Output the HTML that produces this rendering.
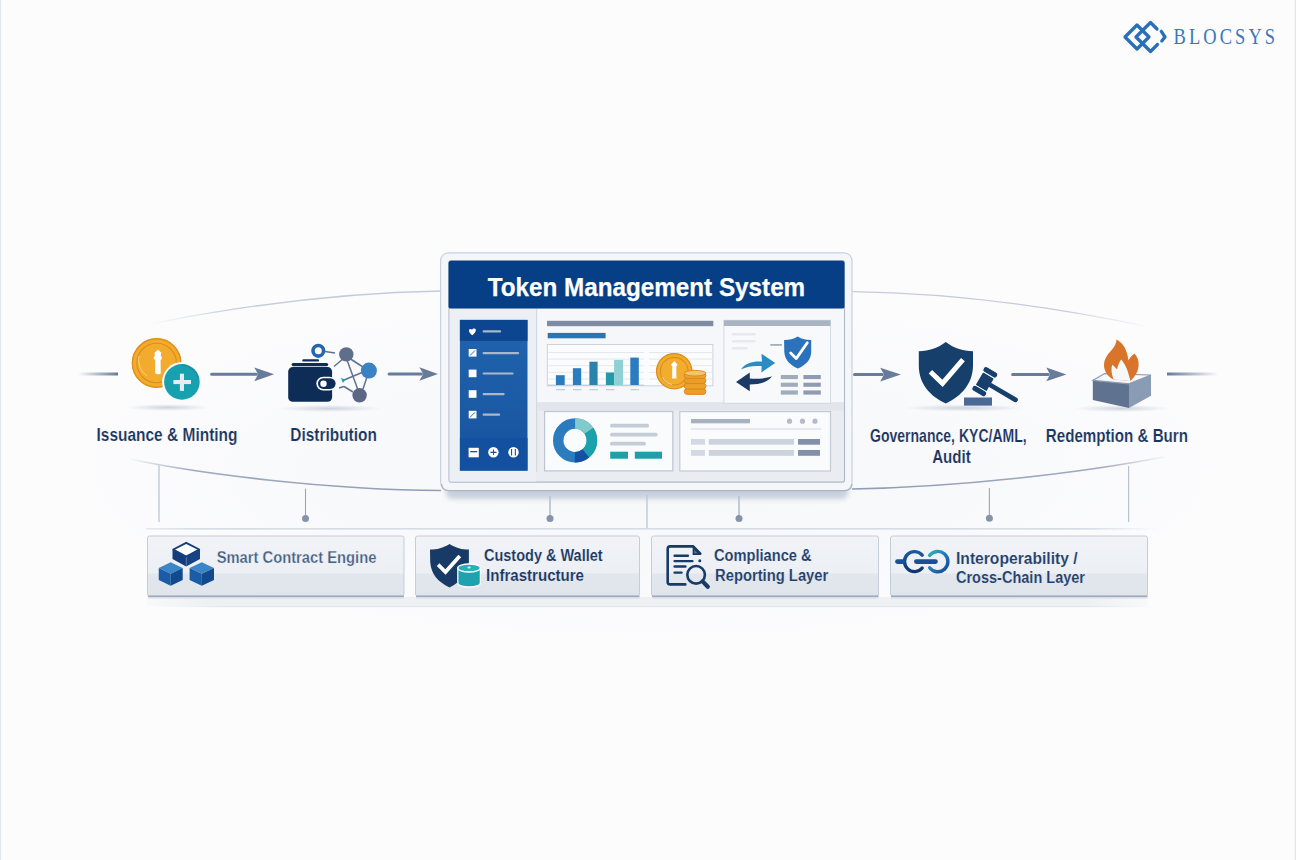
<!DOCTYPE html>
<html><head><meta charset="utf-8">
<style>
html,body{margin:0;padding:0;width:1296px;height:860px;overflow:hidden;background:#fcfdfd;}
svg{display:block;}
text{font-family:"Liberation Sans",sans-serif;}
</style></head>
<body>
<svg width="1296" height="860" viewBox="0 0 1296 860">
<defs>
  <linearGradient id="fadeL" x1="0" x2="1" y1="0" y2="0">
    <stop offset="0" stop-color="#67799a" stop-opacity="0"/>
    <stop offset="1" stop-color="#67799a" stop-opacity="1"/>
  </linearGradient>
  <linearGradient id="fadeR" x1="0" x2="1" y1="0" y2="0">
    <stop offset="0" stop-color="#67799a" stop-opacity="1"/>
    <stop offset="1" stop-color="#67799a" stop-opacity="0"/>
  </linearGradient>
  <filter id="blur3" x="-20%" y="-50%" width="140%" height="200%"><feGaussianBlur stdDeviation="2.6"/></filter>
  <radialGradient id="shadow" cx="0.5" cy="0.5" r="0.5">
    <stop offset="0" stop-color="#c9d0da" stop-opacity="0.9"/>
    <stop offset="1" stop-color="#c9d0da" stop-opacity="0"/>
  </radialGradient>
  <linearGradient id="sideg" x1="0" x2="0" y1="0" y2="1">
    <stop offset="0" stop-color="#2164ae"/>
    <stop offset="0.7" stop-color="#1a58a3"/>
    <stop offset="1" stop-color="#1650a0"/>
  </linearGradient>
  <linearGradient id="arcTL" x1="0" x2="1" y1="0" y2="0">
    <stop offset="0" stop-color="#c3ccda" stop-opacity="0"/>
    <stop offset="0.3" stop-color="#c3ccda" stop-opacity="1"/>
    <stop offset="1" stop-color="#c3ccda"/>
  </linearGradient>
  <linearGradient id="arcTR" x1="0" x2="1" y1="0" y2="0">
    <stop offset="0" stop-color="#c3ccda"/>
    <stop offset="0.7" stop-color="#c3ccda" stop-opacity="1"/>
    <stop offset="1" stop-color="#c3ccda" stop-opacity="0"/>
  </linearGradient>
  <linearGradient id="arcBL" x1="0" x2="1" y1="0" y2="0">
    <stop offset="0" stop-color="#8e9cb4" stop-opacity="0.05"/>
    <stop offset="0.2" stop-color="#8e9cb4" stop-opacity="0.85"/>
    <stop offset="1" stop-color="#8e9cb4"/>
  </linearGradient>
  <linearGradient id="arcBR" x1="0" x2="1" y1="0" y2="0">
    <stop offset="0" stop-color="#8e9cb4"/>
    <stop offset="0.8" stop-color="#8e9cb4" stop-opacity="0.85"/>
    <stop offset="1" stop-color="#8e9cb4" stop-opacity="0.05"/>
  </linearGradient>
  <radialGradient id="bandg" cx="0.5" cy="0.5" r="0.5">
    <stop offset="0" stop-color="#f4f6f9" stop-opacity="0.8"/>
    <stop offset="0.6" stop-color="#f6f7fa" stop-opacity="0.45"/>
    <stop offset="1" stop-color="#f8f9fb" stop-opacity="0"/>
  </radialGradient>
  <linearGradient id="hlineg" x1="0" x2="1" y1="0" y2="0">
    <stop offset="0" stop-color="#d6dce5" stop-opacity="0.6"/>
    <stop offset="0.05" stop-color="#d6dce5"/>
    <stop offset="0.93" stop-color="#d6dce5"/>
    <stop offset="1" stop-color="#d6dce5" stop-opacity="0"/>
  </linearGradient>
  <linearGradient id="hline2g" x1="0" x2="1" y1="0" y2="0">
    <stop offset="0" stop-color="#e0e5eb" stop-opacity="0"/>
    <stop offset="0.08" stop-color="#e0e5eb"/>
    <stop offset="0.92" stop-color="#e0e5eb"/>
    <stop offset="1" stop-color="#e0e5eb" stop-opacity="0"/>
  </linearGradient>
  <linearGradient id="stripg" x1="0" x2="1" y1="0" y2="0">
    <stop offset="0" stop-color="#eef1f4" stop-opacity="0.3"/>
    <stop offset="0.06" stop-color="#eef1f4"/>
    <stop offset="0.94" stop-color="#eef1f4"/>
    <stop offset="1" stop-color="#eef1f4" stop-opacity="0.3"/>
  </linearGradient>
  <linearGradient id="cardg" x1="0" x2="0" y1="0" y2="1">
    <stop offset="0" stop-color="#f1f3f7"/>
    <stop offset="0.62" stop-color="#eceff4"/>
    <stop offset="0.63" stop-color="#e2e6ed"/>
    <stop offset="1" stop-color="#e0e4eb"/>
  </linearGradient>
</defs>

<!-- background & edges -->
<rect x="0" y="0" width="1296" height="860" fill="#fcfcfd"/>
<ellipse cx="648" cy="470" rx="640" ry="190" fill="url(#bandg)"/>
<rect x="0" y="0" width="1.1" height="860" fill="#e2e7ee"/>
<rect x="1294.8" y="0" width="1.2" height="860" fill="#e0e5ed"/>

<!-- arcs -->
<path d="M150,324 C230,308 330,293 441,291" fill="none" stroke="url(#arcTL)" stroke-width="1.3"/>
<path d="M852,291.6 C960,293 1060,308 1149,327" fill="none" stroke="url(#arcTR)" stroke-width="1.3"/>
<path d="M130,459 C200,474 330,490 441,490.5" fill="none" stroke="url(#arcBL)" stroke-width="1.6"/>
<path d="M852,489 C960,487 1080,473 1164,457" fill="none" stroke="url(#arcBR)" stroke-width="1.6"/>

<!-- flow line stubs & arrows -->
<rect x="78" y="372.5" width="40" height="3" fill="url(#fadeL)"/>
<rect x="1167" y="372.5" width="51" height="3" fill="url(#fadeR)"/>
<g fill="#687b9b" stroke="none">
  <rect x="210.2" y="372.80" width="47.6" height="3.0" rx="1.5"/>
  <path d="M254.3,367.40 L274.1,374.30 L254.3,381.20 L258.1,374.30 Z"/>
  <rect x="387.6" y="372.50" width="35.3" height="3.0" rx="1.5"/>
  <path d="M419.4,367.30 L437.9,374.00 L419.4,380.70 L423.2,374.00 Z"/>
  <rect x="853" y="373.10" width="30.7" height="3.0" rx="1.5"/>
  <path d="M880.2,367.70 L900.9,374.60 L880.2,381.50 L884.0,374.60 Z"/>
  <rect x="1011.1" y="372.90" width="38.7" height="3.0" rx="1.5"/>
  <path d="M1046.3,367.50 L1066.4,374.40 L1046.3,381.30 L1050.1,374.40 Z"/>
</g>

<!-- connectors to bottom -->
<g stroke="#b8c2d1" stroke-width="1.2" fill="none">
  <line x1="159" y1="465.5" x2="159" y2="522"/>
  <line x1="1128.6" y1="466" x2="1128.6" y2="522"/>
  <line x1="647" y1="495" x2="647" y2="528"/>
</g>
<g stroke="#9aa6b8" stroke-width="1.1" fill="none">
  <line x1="305.5" y1="488.6" x2="305.5" y2="518"/>
  <line x1="550" y1="496" x2="550" y2="518"/>
  <line x1="739" y1="496" x2="739" y2="518"/>
  <line x1="989.4" y1="488" x2="989.4" y2="518"/>
</g>
<g fill="#8694ab">
  <circle cx="305.5" cy="518.6" r="3.5"/>
  <circle cx="550" cy="518.6" r="3.5"/>
  <circle cx="739" cy="518.6" r="3.5"/>
  <circle cx="989.4" cy="518.2" r="3.5"/>
</g>
<rect x="146" y="528" width="1012" height="1.6" fill="url(#hlineg)"/>
<rect x="150" y="606" width="1010" height="1.2" fill="url(#hline2g)"/>

<!-- PANEL -->
<g id="panel">
  <!-- shadow -->
  <rect x="446" y="482" width="402" height="17" rx="6" fill="#b9c3d1" opacity="0.75" filter="url(#blur3)"/>
  <rect x="440.6" y="252.8" width="411.4" height="237.8" rx="8" fill="#f4f6f9" stroke="#c9d1dc" stroke-width="1.2"/>
  <path d="M441.5,484 Q442,490.6 449,490.6 L845,490.6 Q851.5,490.6 852,484" fill="none" stroke="#a9b4c4" stroke-width="1.3"/>
  <rect x="449" y="260.5" width="395.5" height="221.6" rx="2" fill="#e9ecf1" stroke="#aeb8c7" stroke-width="1.1"/>
  <!-- header -->
  <rect x="448.5" y="260.8" width="396" height="48" rx="2.5" fill="#063f86"/>
  <text x="487.7" y="295.5" font-size="26.5" font-weight="bold" fill="#ffffff" stroke="#ffffff" stroke-width="0.25" textLength="317.5" lengthAdjust="spacingAndGlyphs">Token Management System</text>
  <!-- left pane bg -->
  <rect x="449.6" y="308.7" width="86.5" height="172.8" fill="#eceff3"/>
  <rect x="536" y="308.7" width="1.3" height="163" fill="#d3d9e1"/>
  <!-- top chart area -->
  <rect x="537.3" y="308.7" width="306.6" height="93.3" fill="#f6f7fa"/>
  <rect x="537.3" y="402" width="306.6" height="8.5" fill="#e2e6ec"/>
  <!-- sidebar -->
  <rect x="459.9" y="319.9" width="67.6" height="150.7" fill="url(#sideg)"/>
  <rect x="459.9" y="319.9" width="67.6" height="21" fill="#0d4690"/>
  <rect x="459.9" y="438" width="67.6" height="32.6" fill="#1450a0"/>
  <g fill="#ffffff">
    <path d="M472.3,335.3 C470,333.5 468.8,332 469,330.3 C469.3,328.8 471,328.5 472,329.8 C472.8,328.2 475,327.8 475.8,329.5 C476.3,331 474.8,333.3 472.3,335.3 Z"/>
    <rect x="468.7" y="349" width="7.8" height="7.6"/>
    <rect x="468.7" y="369.6" width="7.8" height="7.6"/>
    <rect x="468.7" y="390.2" width="7.8" height="7.6"/>
    <rect x="468.7" y="410.8" width="7.8" height="7.6"/>
    <rect x="468.6" y="447.8" width="10.2" height="9.5"/>
    <circle cx="493.4" cy="452.3" r="5.2"/>
    <circle cx="513.5" cy="452.3" r="5.2"/>
  </g>
  <g stroke="#1a5aa6" stroke-width="0.9" fill="none">
    <line x1="470" y1="355.5" x2="475" y2="350.5"/>
    <line x1="470" y1="417.3" x2="475" y2="412.3"/>
  </g>
  <g fill="#1450a0">
    <rect x="470.2" y="451" width="7" height="1.3"/>
    <rect x="490.5" y="451.7" width="6" height="1.3"/>
    <rect x="493" y="449.5" width="1" height="5.5"/>
    <rect x="511" y="449" width="1.1" height="6.5"/>
    <rect x="514.8" y="449" width="1.1" height="6.5"/>
  </g>
  <g fill="#a9b7c9">
    <rect x="482.6" y="330.3" width="18.5" height="2.2" rx="1"/>
    <rect x="482.6" y="352" width="36.5" height="2.2" rx="1"/>
    <rect x="482.6" y="372.4" width="31" height="2.2" rx="1"/>
    <rect x="482.6" y="393" width="22" height="2.2" rx="1"/>
    <rect x="482.6" y="413.5" width="17.5" height="2.2" rx="1"/>
  </g>
  <!-- chart header bars -->
  <rect x="547" y="320.8" width="166.3" height="5.4" fill="#7d8ba3"/>
  <rect x="547.7" y="332.9" width="57.9" height="5.4" fill="#2577bb"/>
  <!-- chart box -->
  <rect x="547.3" y="344.5" width="165.6" height="41.3" fill="#fbfcfd" stroke="#ccd3dd" stroke-width="1"/>
  <g fill="#e4e8ee">
    <rect x="548" y="352" width="96" height="1"/>
    <rect x="548" y="358.6" width="96" height="1"/>
    <rect x="548" y="365.2" width="96" height="1"/>
    <rect x="548" y="371.8" width="96" height="1"/>
    <rect x="548" y="378.5" width="96" height="1"/>
    <rect x="649" y="352" width="64" height="1"/>
    <rect x="649" y="358.6" width="64" height="1"/>
    <rect x="649" y="365.2" width="64" height="1"/>
    <rect x="649" y="371.8" width="64" height="1"/>
    <rect x="649" y="378.5" width="64" height="1"/>
  </g>
  <rect x="548" y="384.6" width="96" height="1.2" fill="#c3cad5"/>
  <rect x="555.9" y="375.2" width="8.8" height="9.8" fill="#2a7cbf"/>
  <rect x="572.9" y="368.2" width="8.3" height="16.8" fill="#2a7cbf"/>
  <rect x="589.4" y="361.7" width="8.2" height="23.3" fill="#2b82ab"/>
  <rect x="605.9" y="372.5" width="8.2" height="12.5" fill="#2598a9"/>
  <rect x="614.1" y="359.9" width="8.9" height="25.1" fill="#8fd0d4"/>
  <rect x="630.3" y="357.6" width="8.5" height="27.4" fill="#2a7cbf"/>
  <g fill="#c4ccd6">
    <rect x="556" y="389" width="9" height="1.3"/>
    <rect x="573" y="389" width="8.5" height="1.3"/>
    <rect x="589.5" y="389" width="8.5" height="1.3"/>
    <rect x="606" y="389" width="8.5" height="1.3"/>
    <rect x="630.5" y="389" width="8.5" height="1.3"/>
  </g>
  <!-- coin + stack -->
  <circle cx="674.2" cy="371.2" r="17.6" fill="#f2ac2e" stroke="#dd8e1c" stroke-width="1.3"/>
  <circle cx="674.2" cy="371.2" r="13.8" fill="none" stroke="#dc8f20" stroke-width="1.1"/>
  <path d="M662.5,377 A13,13 0 0 0 672,384.5" fill="none" stroke="#fbe3b3" stroke-width="0.8"/>
  <path d="M674.3,361 L677.6,364.8 L676.3,366.4 L676.4,378.5 L672.2,378.5 L672.3,366.4 L671,364.8 Z" fill="#ffffff"/>
  <g stroke="#d9861a" stroke-width="0.9">
    <rect x="684.3" y="388.6" width="21.6" height="5.8" rx="2.9" fill="#eb9d28"/>
    <rect x="684.3" y="383.2" width="21.6" height="5.8" rx="2.9" fill="#eda22b"/>
    <rect x="684.3" y="377.8" width="21.6" height="5.8" rx="2.9" fill="#eb9d28"/>
    <rect x="684.3" y="372.6" width="21.6" height="5.8" rx="2.9" fill="#eda22b"/>
    <ellipse cx="695.1" cy="373.2" rx="10.8" ry="2.8" fill="#f7c465"/>
  </g>
  <!-- right top box -->
  <rect x="723.9" y="320.3" width="106.6" height="83" fill="#f8f9fb" stroke="#d3d9e2" stroke-width="1"/>
  <rect x="723.9" y="320.3" width="106.6" height="5.7" fill="#a9b3c2"/>
  <g fill="#e6eaf0">
    <rect x="731.6" y="333" width="24" height="2.6" rx="1"/>
    <rect x="731.6" y="340" width="24" height="2.6" rx="1"/>
    <rect x="731.6" y="346.9" width="16" height="2.6" rx="1"/>
  </g>
  <rect x="770.3" y="344.2" width="11.6" height="1.4" fill="#8d9ab0"/>
  <!-- shield -->
  <path d="M797.7,336.5 C793,339.5 788.5,340 784.1,339.9 L784.3,352 C784.8,360 790,365 797.9,368.6 C805.8,365 811,360 811.2,352 L811.2,339.9 C806.8,340 802.4,339.5 797.7,336.5 Z" fill="#2a72bb"/>
  <path d="M790.7,353 L796.2,358.6 L807.3,342.8" fill="none" stroke="#ffffff" stroke-width="2.8" stroke-linecap="round" stroke-linejoin="round"/>
  <!-- exchange arrows -->
  <path d="M741,369.3 C746,362.5 753,361 762,361.5 L761.4,353.7 L775.2,363 L761.4,372.5 L761.6,366 C753,365.5 747,366.5 741,369.3 Z" fill="#2a8cc2"/>
  <path d="M772,376.3 C768,382 760,384.5 749.8,384.5 L749.8,391.2 L736,381.9 L749.8,372.5 L749.8,378.5 C758,379 766,378.5 772,376.3 Z" fill="#1b3a66"/>
  <g fill="#a0abbb">
    <rect x="780.8" y="375" width="17.1" height="4.1"/>
    <rect x="780.8" y="382.7" width="17.1" height="4.1"/>
    <rect x="780.8" y="390.4" width="17.1" height="4.2"/>
  </g>
  <g fill="#8f9bb0">
    <rect x="803.4" y="375" width="17.4" height="4.1"/>
    <rect x="803.4" y="382.7" width="17.4" height="4.1"/>
    <rect x="803.4" y="390.4" width="17.4" height="4.2"/>
  </g>
  <!-- donut card -->
  <rect x="544.6" y="411.5" width="128.2" height="59.4" fill="#fafbfc" stroke="#bcc5d2" stroke-width="1.2"/>
  <g transform="translate(575.1,440.4)">
    <circle r="16.85" fill="none" stroke="#2b7bbf" stroke-width="10.5"/>
    <path d="M0,-22.1 A22.1,22.1 0 0 1 18.24,-12.48 L9.57,-6.55 A11.6,11.6 0 0 0 0,-11.6 Z" fill="#80c9cd"/>
    <path d="M18.24,-12.48 A22.1,22.1 0 0 1 14.03,17.07 L7.36,8.96 A11.6,11.6 0 0 0 9.57,-6.55 Z" fill="#1aa1ab"/>
    <path d="M14.03,17.07 A22.1,22.1 0 0 1 -0.4,22.1 L-0.2,11.6 A11.6,11.6 0 0 0 7.36,8.96 Z" fill="#1650a0"/>
  </g>
  <g fill="#c4ccd7">
    <rect x="610" y="423.8" width="39.1" height="3.8" rx="1.9"/>
    <rect x="610" y="432.8" width="47.7" height="3.8" rx="1.9"/>
    <rect x="610" y="441.8" width="35.9" height="3.8" rx="1.9"/>
  </g>
  <rect x="610.2" y="451.7" width="17.8" height="7" fill="#1fa0a8"/>
  <rect x="634.8" y="451.7" width="27.2" height="7" fill="#1fa0a8"/>
  <!-- right bottom card -->
  <rect x="679.8" y="411.6" width="150.7" height="59.4" fill="#fafbfc" stroke="#c3cbd7" stroke-width="1.2"/>
  <rect x="691" y="419" width="59" height="4.3" fill="#a7b1c0"/>
  <g fill="#b3bccb">
    <circle cx="789.5" cy="421.2" r="2.6"/>
    <circle cx="802.5" cy="421.2" r="2.6"/>
    <circle cx="815" cy="421.2" r="2.6"/>
  </g>
  <rect x="691" y="428.5" width="130" height="1" fill="#d0d6df"/>
  <g fill="#d3d9e2">
    <rect x="691" y="439" width="14" height="5.7"/>
    <rect x="691" y="450" width="14" height="5.8"/>
  </g>
  <g fill="#ccd3dd">
    <rect x="708.8" y="439" width="85.2" height="5.7"/>
    <rect x="708.8" y="450" width="85.2" height="5.8"/>
  </g>
  <g fill="#8291a9">
    <rect x="798" y="439" width="22" height="5.7"/>
    <rect x="798" y="450" width="22" height="5.8"/>
  </g>
</g>

<!-- icon shadows -->
<g fill="url(#shadow)">
  <ellipse cx="168" cy="407.5" rx="42" ry="3.5"/>
  <ellipse cx="330" cy="408.5" rx="52" ry="3.5"/>
  <ellipse cx="964" cy="408" rx="60" ry="3.5"/>
  <ellipse cx="1122" cy="408.5" rx="48" ry="3.5"/>
</g>
<!-- issuance icon -->
<g>
  <circle cx="156.6" cy="363" r="24.8" fill="#f2ab2c"/>
  <circle cx="156.6" cy="363" r="24.2" fill="none" stroke="#e08f1c" stroke-width="1.4"/>
  <circle cx="156.6" cy="363" r="19.8" fill="none" stroke="#dd8d1e" stroke-width="1.1"/>
  <path d="M147,376 A19,19 0 0 1 139,356" fill="none" stroke="#fbe1ae" stroke-width="0.8" opacity="0.8"/>
  <path d="M158,349.5 L161.5,353 L160.6,355 L162,358 L160.6,360.5 L160.8,373.5 L158.5,374.5 L155.2,373.5 L155.2,360.5 L153.5,358 L155,355 L154.4,353 Z" fill="#ffffff"/>
  <circle cx="181.9" cy="381.9" r="19.8" fill="#fbfcfd"/>
  <circle cx="181.9" cy="381.9" r="17.8" fill="#17a0ae"/>
  <path d="M181.9,365 A17,17 0 0 1 198.5,379" fill="none" stroke="#2569a8" stroke-width="1" opacity="0.6"/>
  <rect x="173.4" y="380" width="17.6" height="4.1" fill="#e6edf1"/>
  <rect x="179.9" y="373.7" width="4.1" height="17.2" fill="#e6edf1"/>
</g>
<!-- distribution icon -->
<g>
  <g stroke="#5f7191" stroke-width="1.5" fill="none">
    <line x1="325" y1="351.5" x2="335" y2="353"/>
    <line x1="334" y1="366.5" x2="344" y2="358"/>
    <line x1="349" y1="358" x2="363" y2="367"/>
    <line x1="347" y1="360" x2="358" y2="390"/>
    <line x1="367" y1="377" x2="363" y2="389"/>
    <line x1="343.5" y1="380.3" x2="362" y2="372.5"/>
    <line x1="339" y1="388" x2="344" y2="386.5"/>
    <line x1="344" y1="386.5" x2="353" y2="392"/>
  </g>
  <path d="M341,378 L345.5,379.5 L343,383 Z" fill="#1ea1ac"/>
  <circle cx="346.3" cy="354.4" r="7.2" fill="#5e6f8b"/>
  <circle cx="368.9" cy="370.6" r="8" fill="#3a82c4"/>
  <circle cx="359.6" cy="395.3" r="7.2" fill="#5b6885"/>
  <circle cx="318.3" cy="350.8" r="5.3" fill="none" stroke="#2367b0" stroke-width="3.6"/>
  <rect x="302.3" y="359.2" width="16.7" height="2.4" rx="1.2" fill="#0d2d57"/>
  <rect x="291.6" y="362.9" width="36.6" height="3.3" rx="1.6" fill="#0d2d57"/>
  <rect x="288.2" y="367.1" width="43.9" height="34.7" rx="4.5" fill="#0d2d57"/>
  <rect x="316.3" y="376.8" width="20" height="13.6" rx="6.8" fill="#ffffff"/>
  <rect x="318" y="378.3" width="17.6" height="10.6" rx="5.3" fill="#0d2d57"/>
  <circle cx="323.5" cy="383.8" r="3.2" fill="#ffffff"/>
</g>
<!-- governance icon -->
<g fill="#173f6c">
  <path d="M945.8,342 C938,348 929,351 918.8,351.2 L918.8,366 C919,384 930,396 945.8,403.6 C961.5,396 972.5,384 973,366 L973,351.2 C962.5,351 953.5,348 945.8,342 Z"/>
  <g transform="translate(984.8,381.7) rotate(30.5)">
    <rect x="5" y="-2.3" width="33" height="4.7" rx="2.3"/>
    <rect x="-6.2" y="-7.5" width="12.4" height="15" rx="1"/>
    <rect x="-8" y="-14" width="16" height="6.2" rx="2.6" stroke="#fbfcfd" stroke-width="1"/>
    <rect x="-8" y="7.8" width="16" height="6.2" rx="2.6" stroke="#fbfcfd" stroke-width="1"/>
  </g>
</g>
<path d="M932.2,373.5 L942.5,383.4 L961.3,361.6" fill="none" stroke="#ffffff" stroke-width="5" stroke-linecap="square" stroke-linejoin="miter"/>
<rect x="964" y="397.5" width="28" height="8.1" fill="#4a6a95"/>
<!-- burn icon -->
<g>
  <path d="M1092.8,380.4 L1104.5,373.5 L1151,375 L1129,383.8 Z" fill="#eef1f5"/>
  <path d="M1092.8,380.4 L1129,383.8 L1129,408 L1092.8,400 Z" fill="#5f7391"/>
  <path d="M1129,383.8 L1151,375 L1151,395.7 L1129,408 Z" fill="#8a9bb5"/>
  <path d="M1092.8,380.4 L1104.5,373.5 L1151,375 L1129,383.8 Z" fill="none" stroke="#8d9bb2" stroke-width="1.2"/>
  <path d="M1099,379 L1106,375.5 L1145,376.3 L1128,382 Z" fill="#fafbfd"/>
  <path d="M1113.6,379.5 C1108,377 1104,371 1104,365.2 C1104,358 1109,353 1112,349.5 C1115,346 1116.5,342 1116.5,339.4 C1121,342 1125,346 1126.5,352 C1127.5,355 1128.2,358 1128.4,360.6 C1130,357.5 1132.5,355 1134.5,353.6 C1137.5,357 1139,361 1138.6,365 C1138.5,370 1136.5,375 1130.5,381 Z" fill="#d9752a"/>
  <path d="M1113.6,379.5 C1111.5,374 1110.8,369 1112.2,364.7 C1114,366 1115.5,368 1117.1,369.3 C1118,365 1119.5,361.5 1121.2,359.4 C1123.5,362 1126,366 1127.6,371 C1128.5,374 1129.5,377 1130.5,381 Z" fill="#f7f8fa"/>
</g>

<!-- labels -->
<g fill="#19345e" font-weight="bold" stroke="#fafbfc" stroke-width="0.15">
  <text x="96.5" y="440.8" font-size="18" textLength="141" lengthAdjust="spacingAndGlyphs">Issuance &amp; Minting</text>
  <text x="290.3" y="440.8" font-size="18" textLength="86.6" lengthAdjust="spacingAndGlyphs">Distribution</text>
  <text x="870" y="441.5" font-size="18" textLength="156.7" lengthAdjust="spacingAndGlyphs">Governance, KYC/AML,</text>
  <text x="932.2" y="462.5" font-size="18" textLength="38.6" lengthAdjust="spacingAndGlyphs">Audit</text>
  <text x="1045.8" y="441.5" font-size="18" textLength="142.2" lengthAdjust="spacingAndGlyphs">Redemption &amp; Burn</text>
</g>

<!-- bottom cards -->
<g stroke="#c5cdd9" stroke-width="1">
  <rect x="147.5" y="536" width="256.5" height="60" rx="2" fill="url(#cardg)"/>
  <rect x="415.5" y="536" width="224" height="60" rx="2" fill="url(#cardg)"/>
  <rect x="651.5" y="536" width="227" height="60" rx="2" fill="url(#cardg)"/>
  <rect x="890.5" y="536" width="257" height="60" rx="2" fill="url(#cardg)"/>
</g>
<rect x="147" y="597" width="1001" height="9" fill="url(#stripg)"/>
<g fill="#95a3b7">
  <rect x="148" y="595.6" width="256" height="1.3"/>
  <rect x="416" y="595.6" width="223.5" height="1.3"/>
  <rect x="652" y="595.6" width="226.5" height="1.3"/>
  <rect x="891" y="595.6" width="256.5" height="1.3"/>
</g>
<g fill="#d3dae3" opacity="0.8">
  <rect x="148" y="597" width="256" height="1.6"/>
  <rect x="416" y="597" width="223.5" height="1.6"/>
  <rect x="652" y="597" width="226.5" height="1.6"/>
  <rect x="891" y="597" width="256.5" height="1.6"/>
</g>

<!-- card 1: cubes -->
<g>
  <!-- top cube -->
  <path d="M172.5,549.5 L186.2,557 L186.2,566.4 L172.5,559 Z" fill="#123d7a"/>
  <path d="M186.2,557 L200,549.5 L200,559 L186.2,566.4 Z" fill="#154383"/>
  <path d="M186.2,542.8 L199.2,549.5 L186.2,556.5 L173.3,549.5 Z" fill="#ffffff" stroke="#123d7a" stroke-width="1.9" stroke-linejoin="round"/>
  <line x1="186.2" y1="557.5" x2="186.2" y2="565.5" stroke="#5d7fae" stroke-width="0.8"/>
  <!-- bottom-left cube -->
  <path d="M170.7,562.3 L182.7,568 L170.7,573.7 L158.75,568 Z" fill="#3a86c8"/>
  <path d="M158.75,568 L170.7,573.7 L170.7,585.8 L158.75,580 Z" fill="#1a5ca6"/>
  <path d="M170.7,573.7 L182.7,568 L182.7,580 L170.7,585.8 Z" fill="#124a8e"/>
  <!-- bottom-right cube -->
  <path d="M201.8,562.3 L214,568 L201.8,573.7 L189.6,568 Z" fill="#3a86c8"/>
  <path d="M189.6,568 L201.8,573.7 L201.8,585.8 L189.6,580 Z" fill="#1a5ca6"/>
  <path d="M201.8,573.7 L214,568 L214,580 L201.8,585.8 Z" fill="#124a8e"/>
</g>
<text x="216.7" y="562.6" font-size="16.3" font-weight="bold" fill="#465e81" stroke="#eceff4" stroke-width="0.25" textLength="159.7" lengthAdjust="spacingAndGlyphs">Smart Contract Engine</text>

<!-- card 2: shield + cylinder -->
<g>
  <path d="M449.5,543.9 C443,548 437,549.5 430,549.5 L430.2,562 C431,574 438,582 449.5,587.4 C461,582 468,574 468.9,562 L468.9,549.5 C462,549.5 456,548 449.5,543.9 Z" fill="#173b66"/>
  <path d="M439.5,566 L445.5,572 L458.5,557.5" fill="none" stroke="#ffffff" stroke-width="3.8" stroke-linecap="square"/>
  <path d="M457.8,568 L457.8,583 C457.8,585.3 462.8,587 469.1,587 C475.4,587 480.4,585.3 480.4,583 L480.4,568 Z" fill="#1ea3ae" stroke="#fbfcfd" stroke-width="1.3"/>
  <ellipse cx="469.1" cy="568" rx="11.3" ry="4" fill="#28afba" stroke="#fbfcfd" stroke-width="1.3"/>
  <ellipse cx="469.1" cy="567.6" rx="1.6" ry="1" fill="#e9f5f6"/>
</g>
<g fill="#1b3863" font-weight="bold" stroke="#e9ecf2" stroke-width="0.12">
  <text x="484" y="561" font-size="16.3" textLength="118.6" lengthAdjust="spacingAndGlyphs">Custody &amp; Wallet</text>
  <text x="486" y="581.3" font-size="16.3" textLength="98" lengthAdjust="spacingAndGlyphs">Infrastructure</text>
</g>

<!-- card 3: document + magnifier -->
<g fill="none" stroke="#173b66" stroke-width="2.6" stroke-linejoin="round" stroke-linecap="round">
  <path d="M685.3,584.4 L670.2,584.4 Q667.7,584.4 667.7,581.9 L667.7,548.9 Q667.7,546.4 670.2,546.4 L693.2,546.4 L700.3,553.6"/>
  <line x1="674.6" y1="555.7" x2="687.9" y2="555.7" stroke-width="2.4"/>
  <line x1="674.6" y1="561.1" x2="692.4" y2="561.1" stroke-width="2.4"/>
  <line x1="674.6" y1="566.5" x2="685.4" y2="566.5" stroke-width="2.4"/>
  <line x1="674.6" y1="572.6" x2="681.5" y2="572.6" stroke-width="2.4"/>
  <circle cx="696.1" cy="574.8" r="8.8" stroke-width="2.6"/>
  <line x1="702.6" y1="581.4" x2="707.8" y2="586.8" stroke-width="4.2"/>
</g>
<path d="M692.6,546.4 L701.3,555 L692.6,555 Z" fill="#173b66"/>
<path d="M694.2,550 L697.5,553.2 L694.2,553.2 Z" fill="#5b7396"/>
<circle cx="699.8" cy="560.8" r="1.5" fill="#173b66"/>
<g fill="#21406b" font-weight="bold" stroke="#e9ecf2" stroke-width="0.12">
  <text x="713.9" y="560.6" font-size="16.3" textLength="97.8" lengthAdjust="spacingAndGlyphs">Compliance &amp;</text>
  <text x="715" y="580.6" font-size="16.3" textLength="113.3" lengthAdjust="spacingAndGlyphs">Reporting Layer</text>
</g>

<!-- card 4: link icon -->
<defs>
  <linearGradient id="linkL" x1="0" x2="0" y1="0" y2="1">
    <stop offset="0" stop-color="#1c58a0"/>
    <stop offset="1" stop-color="#0f3670"/>
  </linearGradient>
  <linearGradient id="linkR" x1="0" x2="1" y1="0" y2="1">
    <stop offset="0" stop-color="#2cb5b8"/>
    <stop offset="0.45" stop-color="#2778bd"/>
    <stop offset="1" stop-color="#114a8f"/>
  </linearGradient>
</defs>
<path d="M922.2,555.2 A10,10 0 1 0 922.2,568" fill="none" stroke="url(#linkL)" stroke-width="3.4" stroke-linecap="round"/>
<path d="M929.6,555.4 A10.2,10.2 0 1 1 929.6,567.8" fill="none" stroke="url(#linkR)" stroke-width="3.4" stroke-linecap="round"/>
<rect x="895.1" y="559.2" width="10" height="4.8" rx="2.4" fill="#1a5299"/>
<rect x="914" y="559.3" width="23.8" height="4.6" rx="2.3" fill="#1b4f94"/>
<g fill="#21406b" font-weight="bold" stroke="#e9ecf2" stroke-width="0.12">
  <text x="956" y="564.4" font-size="16.3" textLength="121.6" lengthAdjust="spacingAndGlyphs">Interoperability /</text>
  <text x="956" y="583" font-size="16.3" textLength="129" lengthAdjust="spacingAndGlyphs">Cross-Chain Layer</text>
</g>

<!-- logo -->
<g fill="none" stroke="#2a70b8" stroke-width="3.3" stroke-linejoin="round" stroke-linecap="round">
  <path d="M1137,25 L1149,37 L1137,49 L1125,37 Z"/>
  <path d="M1157,29 L1150.5,22.5 L1136,37 L1150.5,51.5 L1157.5,44.5"/>
  <path d="M1161.3,31.3 L1165,37 L1161.8,41"/>
</g>
<text x="0" y="0" transform="translate(1173.6,43.7) scale(0.82,1)" style="font-family:'Liberation Serif',serif" font-size="22.5" fill="#3a78bb" textLength="123.7" lengthAdjust="spacing">BLOCSYS</text>

</svg>
</body></html>
